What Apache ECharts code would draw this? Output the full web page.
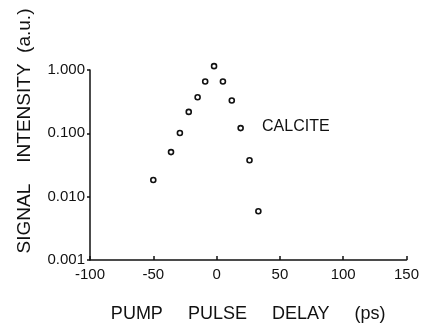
<!DOCTYPE html>
<html>
<head>
<meta charset="utf-8">
<script src="https://cdn.jsdelivr.net/npm/echarts@6/dist/echarts.min.js"></script>
<style>
  html, body { margin: 0; padding: 0; background: #fff; }
  #chart { width: 422px; height: 328px; }
</style>
</head>
<body>
<div id="chart"></div>
<script>
// pump pulse delay (ps) and signal intensity (a.u.)
const delays = [-50, -36, -29, -22, -15, -9, -2, 5, 12, 19, 26, 33];
const intensities = [0.0183, 0.0505, 0.101, 0.218, 0.371, 0.66, 1.15, 0.66, 0.33, 0.121, 0.0375, 0.0059];
const xTickValues = [-100, -50, 0, 50, 100, 150];
const yTickLabels = ["0.001", "0.010", "0.100", "1.000"];

const font = "Liberation Sans";
const ink = "#111";

const chart = echarts.init(document.getElementById("chart"));

chart.setOption({
  animation: false,
  backgroundColor: "#fff",
  title: {
    text: "CALCITE",
    left: 262,
    top: 119,
    textStyle: { fontFamily: font, fontSize: 16, fontWeight: "normal", color: ink },
    padding: 0,
  },
  grid: { left: 90, right: 14, top: 70, bottom: 63 },
  xAxis: {
    type: "value",
    min: xTickValues[0],
    max: xTickValues[xTickValues.length - 1],
    interval: 50,
    name: "PUMP     PULSE     DELAY     (ps)",
    nameLocation: "middle",
    nameGap: 45,
    nameTextStyle: { fontFamily: font, fontSize: 18, color: ink },
    axisLine: { onZero: false, lineStyle: { color: ink, width: 1.5 } },
    axisTick: { inside: true, length: 4, lineStyle: { color: ink, width: 1.5 } },
    axisLabel: { fontFamily: font, fontSize: 15, color: ink, margin: 7 },
    splitLine: { show: false },
  },
  yAxis: {
    type: "log",
    logBase: 10,
    min: 0.001,
    max: 1,
    name: "SIGNAL    INTENSITY  (a.u.)",
    nameLocation: "middle",
    nameGap: 56,
    nameTextStyle: { fontFamily: font, fontSize: 19, color: ink, padding: [0, 0, 0, 68] },
    axisLine: { show: true, onZero: false, lineStyle: { color: ink, width: 1.5 } },
    axisTick: { show: true, length: 3, lineStyle: { color: ink, width: 1.5 } },
    axisLabel: {
      fontFamily: font,
      fontSize: 15,
      color: ink,
      margin: 5,
      formatter: (v) => yTickLabels[Math.round(Math.log10(v)) + 3],
    },
    splitLine: { show: false },
  },
  series: [
    {
      type: "scatter",
      clip: false,
      symbol: "circle",
      symbolSize: 5,
      itemStyle: { color: "#fff", borderColor: ink, borderWidth: 1.6, opacity: 1 },
      data: delays.map((d, i) => [d, intensities[i]]),
    },
  ],
});
</script>
</body>
</html>
